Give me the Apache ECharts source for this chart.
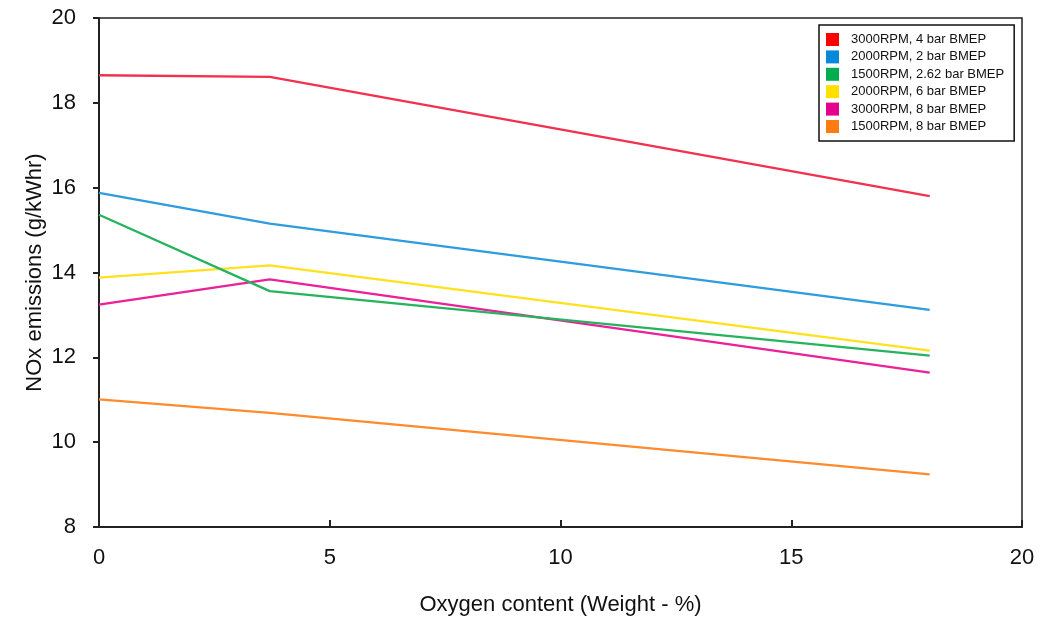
<!DOCTYPE html>
<html>
<head>
<meta charset="utf-8">
<script src="https://cdn.jsdelivr.net/npm/echarts@6/dist/echarts.min.js"></script>
<style>
html,body{margin:0;padding:0;background:#fff;}
#chart{width:1042px;height:625px;}
</style>
</head>
<body>
<div id="chart"></div>
<script>
// Oxygen content (weight %) at which each series is sampled
const oxygen = [0, 3.7, 18];

const seriesNames = [
  '3000RPM, 4 bar BMEP',
  '2000RPM, 2 bar BMEP',
  '1500RPM, 2.62 bar BMEP',
  '2000RPM, 6 bar BMEP',
  '3000RPM, 8 bar BMEP',
  '1500RPM, 8 bar BMEP'
];

const rpm3000_4bar   = [18.65, 18.61, 15.80];
const rpm2000_2bar   = [15.88, 15.15, 13.12];
const rpm1500_262bar = [15.36, 13.56, 12.04];
const rpm2000_6bar   = [13.88, 14.17, 12.16];
const rpm3000_8bar   = [13.24, 13.84, 11.64];
const rpm1500_8bar   = [11.01, 10.69, 9.24];

const xTicks = [0, 5, 10, 15, 20];
const yTicks = [8, 10, 12, 14, 16, 18, 20];

const allValues = [rpm3000_4bar, rpm2000_2bar, rpm1500_262bar, rpm2000_6bar, rpm3000_8bar, rpm1500_8bar];
const lineColors = ['#F2304F', '#2E9CDF', '#27B35E', '#FFE11E', '#EA2199', '#FF8B2E'];
const swatchColors = ['#FF0000', '#0A88D8', '#00AD4E', '#FFE000', '#E2008D', '#FF7B14'];

const chart = echarts.init(document.getElementById('chart'), null, {renderer: 'canvas'});

const font = 'Liberation Sans, Arial, sans-serif';

const option = {
  backgroundColor: '#fff',
  animation: false,
  grid: {
    left: 99, right: 20, top: 18, bottom: 98,
    show: true, borderColor: '#222', borderWidth: 1.5, backgroundColor: 'transparent'
  },
  legend: {
    orient: 'vertical',
    left: 819, top: 25,
    padding: [8, 10, 8, 7],
    itemWidth: 13, itemHeight: 13,
    itemGap: 4.4,
    borderColor: '#111', borderWidth: 1.5,
    backgroundColor: '#fff',
    icon: 'rect',
    textStyle: {fontFamily: font, fontSize: 13, color: '#111', padding: [0, 0, 0, 7]},
    data: seriesNames.map((n, i) => ({name: n, itemStyle: {color: swatchColors[i]}}))
  },
  xAxis: {
    type: 'value',
    min: xTicks[0], max: xTicks[xTicks.length - 1], interval: 5,
    name: 'Oxygen content (Weight - %)',
    nameLocation: 'middle',
    nameGap: 67,
    nameMoveOverlap: false,
    nameTextStyle: {fontFamily: font, fontSize: 22, color: '#111'},
    axisLine: {show: true, onZero: false, lineStyle: {color: '#222', width: 2}},
    axisTick: {show: true, inside: true, length: 7, lineStyle: {color: '#222', width: 2}},
    axisLabel: {fontFamily: font, fontSize: 22, color: '#111', margin: 20},
    splitLine: {show: false}
  },
  yAxis: {
    type: 'value',
    min: yTicks[0], max: yTicks[yTicks.length - 1], interval: 2,
    name: 'NOx emissions (g/kWhr)',
    nameLocation: 'middle',
    nameGap: 53,
    nameMoveOverlap: false,
    nameRotate: 90,
    nameTextStyle: {fontFamily: font, fontSize: 22, color: '#111'},
    axisLine: {show: true, onZero: false, lineStyle: {color: '#222', width: 2}},
    axisTick: {show: true, inside: false, length: 6, lineStyle: {color: '#222', width: 2}},
    axisLabel: {fontFamily: font, fontSize: 22, color: '#111', margin: 23},
    splitLine: {show: false}
  },
  series: seriesNames.map((n, i) => ({
    name: n,
    type: 'line',
    data: oxygen.map((x, j) => [x, allValues[i][j]]),
    showSymbol: false,
    symbol: 'none',
    lineStyle: {color: lineColors[i], width: 2.3},
    itemStyle: {color: lineColors[i]},
    z: 10 - i
  }))
};

chart.setOption(option);
</script>
</body>
</html>
